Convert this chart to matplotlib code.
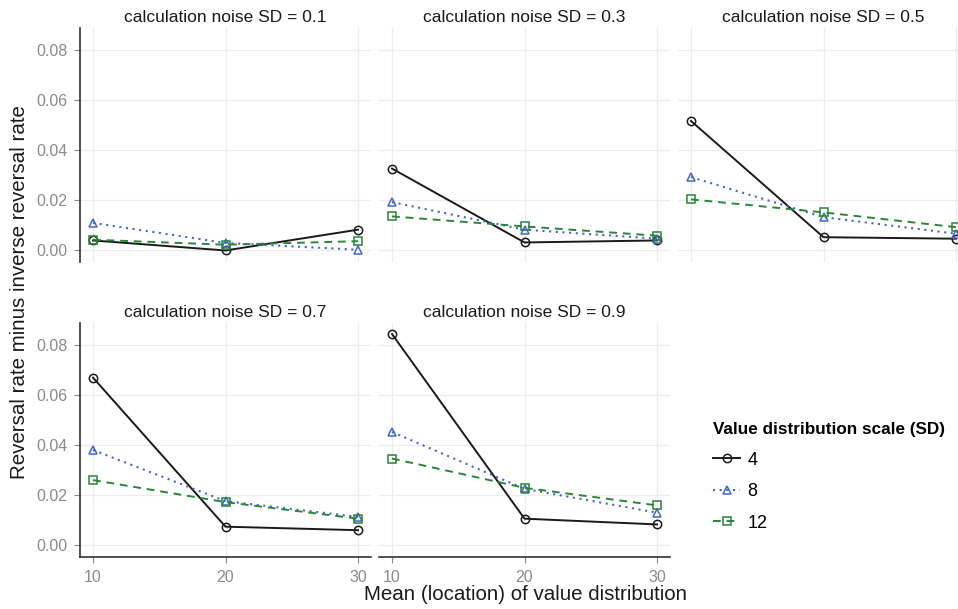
import matplotlib
matplotlib.use("Agg")
import matplotlib.pyplot as plt
from matplotlib.lines import Line2D

plt.rcParams['font.family'] = ['Liberation Sans', 'DejaVu Sans']

x_vals = [10, 20, 30]
noise_labels = ["calculation noise SD = 0.1", "calculation noise SD = 0.3",
                "calculation noise SD = 0.5", "calculation noise SD = 0.7",
                "calculation noise SD = 0.9"]
series_names = ["4", "8", "12"]

sd4 = [[0.0040, 0.0000, 0.0083],
       [0.0327, 0.0032, 0.0040],
       [0.0517, 0.0053, 0.0047],
       [0.0670, 0.0075, 0.0061],
       [0.0844, 0.0107, 0.0084]]
sd8 = [[0.0110, 0.0030, 0.0003],
       [0.0193, 0.0083, 0.0047],
       [0.0293, 0.0133, 0.0067],
       [0.0381, 0.0177, 0.0114],
       [0.0453, 0.0226, 0.0131]]
sd12 = [[0.0043, 0.0023, 0.0037],
        [0.0136, 0.0096, 0.0059],
        [0.0204, 0.0152, 0.0093],
        [0.0261, 0.0173, 0.0107],
        [0.0347, 0.0230, 0.0160]]

yticks = [0.00, 0.02, 0.04, 0.06, 0.08]
ytick_labels = ["0.00", "0.02", "0.04", "0.06", "0.08"]

styles = [
    dict(color='#1a1a1a', ls='-', marker='o', lw=1.4),
    dict(color='#4466c8', ls=(0, (1, 2.2)), marker='^', lw=1.5),
    dict(color='#2a843a', ls=(0, (4, 3)), marker='s', lw=1.4),
]
all_series = [sd4, sd8, sd12]

W, H = 958, 609
fig = plt.figure(figsize=(W / 100, H / 100), dpi=100)
fig.patch.set_facecolor('white')

pw, ph = 291.5, 234
lefts = [79.75, 378.75, 677.75]
bottoms = [262, 557]

tick_color = '#8a8a8a'
axis_color = '#333333'

for i in range(5):
    r, c = divmod(i, 3)
    ax = fig.add_axes([lefts[c] / W, 1 - bottoms[r] / H, pw / W, ph / H])
    ax.set_facecolor('white')
    ax.set_xlim(9, 31)
    ax.set_ylim(-0.0046, 0.0888)
    ax.set_xticks(x_vals)
    ax.set_yticks(yticks)
    ax.grid(True, color='#ececec', lw=0.9)
    ax.set_axisbelow(True)
    for s in ax.spines.values():
        s.set_visible(False)
    for k, data in enumerate(all_series):
        st = styles[k]
        ax.plot(x_vals, data[i], color=st['color'], linestyle=st['ls'], lw=st['lw'],
                marker=st['marker'], markersize=6, markerfacecolor='none',
                markeredgecolor=st['color'], markeredgewidth=1.1, clip_on=False)
    ax.set_title(noise_labels[i], fontsize=12.5, color='#1a1a1a', pad=4)
    show_left = (c == 0)
    show_bottom = (r == 1)
    if show_left:
        ax.spines['left'].set_visible(True)
        ax.spines['left'].set_color(axis_color)
        ax.spines['left'].set_linewidth(1.2)
        ax.set_yticklabels(ytick_labels)
    ax.tick_params(axis='y', left=show_left, labelleft=show_left, length=4,
                   color=tick_color, labelcolor=tick_color, labelsize=11.5, pad=5)
    if show_bottom:
        ax.spines['bottom'].set_visible(True)
        ax.spines['bottom'].set_color(axis_color)
        ax.spines['bottom'].set_linewidth(1.2)
    ax.tick_params(axis='x', bottom=show_bottom, labelbottom=show_bottom, length=4,
                   color=tick_color, labelcolor=tick_color, labelsize=11.5, pad=5)

fig.text(20 / W, 1 - 292 / H, "Reversal rate minus inverse reversal rate",
         rotation=90, ha='center', va='center', fontsize=14.8, color='#1a1a1a')
fig.text(525 / W, 1 - 594 / H, "Mean (location) of value distribution",
         ha='center', va='center', fontsize=14.8, color='#1a1a1a')

handles = []
for k in range(3):
    st = styles[k]
    handles.append(Line2D([], [], color=st['color'], linestyle=st['ls'], lw=st['lw'],
                          marker=st['marker'], markersize=6, markerfacecolor='none',
                          markeredgecolor=st['color'], markeredgewidth=1.1))
leg = fig.legend(handles, series_names, title="Value distribution scale (SD)",
                 loc='upper left', bbox_to_anchor=(697 / W, 1 - 406 / H),
                 frameon=False, fontsize=13, handlelength=1.5, handletextpad=0.4,
                 labelspacing=0.8, alignment='left',
                 title_fontproperties={'weight': 'bold', 'size': 12.3})

fig.savefig("out.png", dpi=100, facecolor='white')
